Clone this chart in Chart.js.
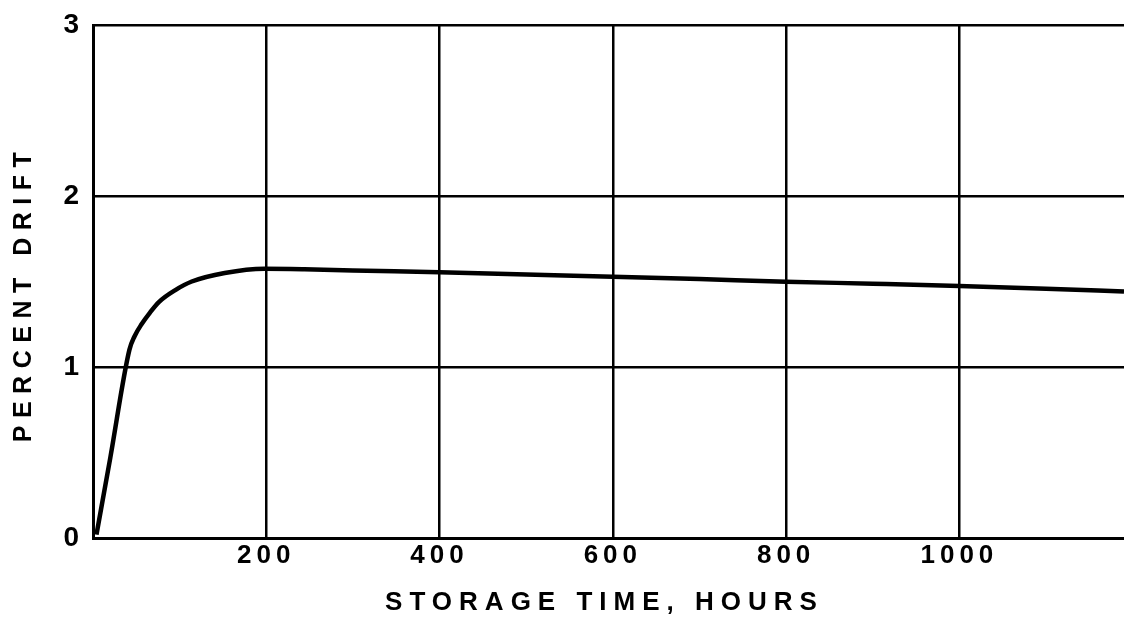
<!DOCTYPE html>
<html>
<head>
<meta charset="utf-8">
<script src="https://cdn.jsdelivr.net/npm/chart.js@4/dist/chart.umd.min.js"></script>
<style>
  html, body { margin: 0; padding: 0; background: #ffffff; }
  #wrap { width: 1124px; height: 625px; }
</style>
</head>
<body>
<div id="wrap"><canvas id="c" width="1124" height="625"></canvas></div>
<script>
// ---- data ----
const hours = [4, 20, 42, 48, 56, 66, 76, 95, 114, 152, 198, 244, 300, 400, 500, 600, 700, 800, 900, 1000, 1100, 1190];
const drift = [0.02, 0.47, 1.10, 1.18, 1.25, 1.32, 1.38, 1.45, 1.50, 1.55, 1.575, 1.572, 1.565, 1.554, 1.541, 1.528, 1.514, 1.499, 1.487, 1.474, 1.458, 1.442];
const xTickValues = [200, 400, 600, 800, 1000];
const yTickValues = [0, 1, 2, 3];
const xTitle = 'STORAGE TIME, HOURS';
const yTitle = 'PERCENT DRIFT';

// linear scale that supports letter spacing on labels / title
class SpacedLinearScale extends Chart.LinearScale {
  drawLabels(chartArea) {
    const ctx = this.ctx;
    ctx.save();
    ctx.letterSpacing = (this.options.ticks.spacing || 0) + 'px';
    super.drawLabels(chartArea);
    ctx.restore();
  }
  drawTitle() {
    const ctx = this.ctx;
    ctx.save();
    ctx.letterSpacing = (this.options.title.spacing || 0) + 'px';
    const sx = this.options.title.shiftX || 0;
    const sy = this.options.title.shiftY || 0;
    ctx.translate(sx, sy);
    super.drawTitle();
    ctx.restore();
  }
}
SpacedLinearScale.id = 'spacedLinear';
SpacedLinearScale.defaults = Chart.LinearScale.defaults;
Chart.register(SpacedLinearScale);

const points = hours.map((h, i) => ({ x: h, y: drift[i] }));
const FONT = "'Liberation Sans', 'DejaVu Sans', sans-serif";

new Chart(document.getElementById('c'), {
  type: 'line',
  data: {
    datasets: [{
      data: points,
      borderColor: '#000000',
      borderWidth: 4.5,
      pointRadius: 0,
      fill: false,
      cubicInterpolationMode: 'monotone'
    }]
  },
  options: {
    responsive: false,
    animation: false,
    events: [],
    layout: { padding: { top: 25, right: 0, bottom: 0, left: 0 } },
    plugins: { legend: { display: false }, tooltip: { enabled: false } },
    scales: {
      x: {
        type: 'spacedLinear',
        min: 0,
        max: 1190,
        afterBuildTicks: (s) => { s.ticks = [{ value: 0 }].concat(xTickValues.map(v => ({ value: v }))); },
        afterFit: (s) => { s.height = 87; s.paddingLeft = 0; s.paddingRight = 0; },
        ticks: {
          color: '#000',
          font: { family: FONT, size: 26, weight: 'bold' },
          padding: 2,
          spacing: 5,
          maxRotation: 0,
          autoSkip: false,
          callback: (v) => (v === 0 ? '' : String(v))
        },
        grid: { color: '#000', lineWidth: 2.5, drawTicks: false },
        border: { color: '#000', width: 3 },
        title: {
          display: true,
          text: xTitle,
          color: '#000',
          font: { family: FONT, size: 26, weight: 'bold' },
          padding: { top: 0, bottom: 7 },
          spacing: 7,
          shiftX: -4
        }
      },
      y: {
        type: 'spacedLinear',
        min: 0,
        max: 3,
        afterBuildTicks: (s) => { s.ticks = yTickValues.map(v => ({ value: v })); },
        afterFit: (s) => { s.width = 93; s.paddingTop = 0; s.paddingBottom = 0; },
        ticks: {
          color: '#000',
          font: { family: FONT, size: 28, weight: 'bold' },
          padding: 14,
          spacing: 0
        },
        grid: { color: '#000', lineWidth: 2.5, drawTicks: false },
        border: { color: '#000', width: 3 },
        title: {
          display: true,
          text: yTitle,
          color: '#000',
          font: { family: FONT, size: 25, weight: 'bold' },
          padding: { top: 9, bottom: 0 },
          spacing: 7.5,
          shiftX: 0,
          shiftY: 12
        }
      }
    }
  }
});
</script>
</body>
</html>
